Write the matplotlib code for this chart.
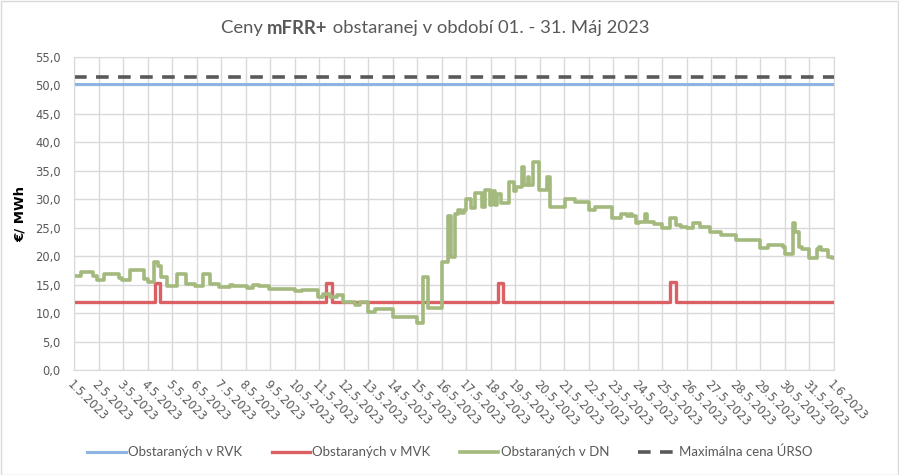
import matplotlib
matplotlib.use('Agg')
import matplotlib.pyplot as plt
from matplotlib.patches import Rectangle
from datetime import datetime, timedelta

# hodiny od 1.5.2023 00:00 a hodnoty (EUR/MWh)
dn_hours = [0, 7, 19, 23, 29, 44, 47, 55, 69, 72, 78, 82, 85, 91, 101, 110, 118,
            126, 133, 142, 153, 156, 169, 175, 181, 191, 216, 223, 239, 244, 251,
            257, 263, 275, 280, 288, 295, 312, 336, 342, 347, 360, 366, 369, 373,
            376, 379, 382, 384, 389, 393, 399, 402, 407, 409, 412, 414, 418, 426,
            431, 433, 439, 441, 444, 445, 449, 455, 463, 466, 481, 490, 504, 510,
            527, 535, 541, 544, 546, 550, 553, 559, 561, 568, 576, 583, 589, 594,
            600, 606, 613, 623, 633, 648, 672, 679, 694, 696, 704, 706, 710, 713,
            720, 727, 729, 731, 738, 742, 744]
dn_vals = [16.5, 17.2, 16.5, 15.9, 16.8, 16.1, 15.8, 17.6, 16.0, 15.4, 18.9, 18.2,
           16.4, 14.8, 16.9, 15.1, 14.8, 16.9, 15.1, 14.65, 15.0, 14.75, 14.4, 15.0,
           14.75, 14.2, 13.8, 14.0, 12.9, 13.3, 12.8, 13.1, 12.0, 11.5, 12.0, 10.25,
           10.7, 9.4, 8.2, 16.4, 10.85, 19.05, 27.0, 19.9, 27.4, 28.1, 27.55, 28.1,
           30.0, 28.4, 31.1, 28.7, 31.65, 29.0, 31.4, 29.0, 31.0, 29.3, 33.1, 31.4,
           32.2, 35.75, 32.5, 34.0, 32.5, 36.6, 31.65, 34.0, 28.7, 30.0, 29.6, 28.1,
           28.7, 26.7, 27.4, 27.0, 27.4, 27.0, 25.8, 26.05, 27.4, 26.05, 25.6, 25.0,
           26.7, 25.4, 25.1, 24.9, 25.9, 25.2, 24.3, 23.7, 22.9, 21.4, 22.0, 21.6,
           20.4, 25.8, 24.3, 21.7, 21.3, 19.6, 21.3, 21.7, 21.1, 19.9, 19.6, 19.6]

mvk_hours = [0, 79, 84, 247, 253, 415, 420, 583, 589, 744]
mvk_vals = [12.0, 15.3, 12.0, 15.3, 12.0, 15.3, 12.0, 15.5, 12.0, 12.0]

rvk_val = 50.3
urso_max = 51.4

start = datetime(2023, 5, 1)
days = [start + timedelta(days=i) for i in range(32)]
day_labels = [f"{d.day}.{d.month}.{d.year}" for d in days]

dn_t = [start + timedelta(hours=h) for h in dn_hours]
mvk_t = [start + timedelta(hours=h) for h in mvk_hours]

fig = plt.figure(figsize=(8.99, 4.75), dpi=100)
fig.patches.append(Rectangle((0.001, 0.001), 0.998, 0.997, transform=fig.transFigure,
                             fill=False, edgecolor='#D9D9D9', linewidth=1))
ax = fig.add_axes([74 / 899, 1 - 370 / 475, 760 / 899, 313 / 475])

ax.plot([days[0], days[-1]], [rvk_val, rvk_val], color='#8EB4E3', lw=2.2,
        label='Obstaraných v RVK')
ax.step(mvk_t, mvk_vals, where='post', color='#DA6064', lw=2.4,
        label='Obstaraných v MVK')
ax.step(dn_t, dn_vals, where='post', color='#A4B97D', lw=2.6,
        label='Obstaraných v DN')
ax.plot([days[0], days[-1]], [urso_max, urso_max], color='#595959', lw=2.6,
        dashes=(3.5, 2.6), label='Maximálna cena ÚRSO')

ax.set_xlim(days[0], days[-1])
ax.set_ylim(0, 55)
ax.set_yticks([i * 5 for i in range(12)])
ax.set_yticklabels([f"{i * 5},0" for i in range(12)])
ax.set_xticks(days)
ax.set_xticklabels(day_labels, rotation=-45, ha='left', va='top',
                   rotation_mode='anchor')
ax.tick_params(length=0, labelsize=8.3, labelcolor='#595959', pad=6)
ax.tick_params(axis='y', pad=9.5)
ax.grid(True, color='#D9D9D9', lw=1)
ax.set_axisbelow(True)
for s in ax.spines.values():
    s.set_color('#D9D9D9')
ax.set_ylabel('€/ MWh', fontsize=9.5, fontweight='bold', labelpad=6)

title_font = ['Lato', 'DejaVu Sans']
fig.canvas.draw()
r = fig.canvas.get_renderer()
parts = [("Ceny ", 'normal'), ("mFRR+", 'bold'),
         (" obstaranej v období 01. - 31. Máj 2023", 'normal')]
texts = []
for s, w in parts:
    t = fig.text(0, 1 - 28 / 475, s, fontsize=13, fontweight=w, family=title_font,
                 color='#595959', va='center', ha='left')
    texts.append(t)
total = sum(t.get_window_extent(r).width for t in texts)
fs = 13 * 426 / total
for t in texts:
    t.set_fontsize(fs)
widths = [t.get_window_extent(r).width for t in texts]
x0 = 435 - sum(widths) / 2
for t, w in zip(texts, widths):
    t.set_x(x0 / 899)
    x0 += w

leg = fig.legend(loc='center', bbox_to_anchor=(450 / 899, 1 - 452 / 475), ncol=4,
                 frameon=False, handlelength=2.9, columnspacing=2.2,
                 handletextpad=0.2, prop={'family': title_font, 'size': 9.5})
for t in leg.get_texts():
    t.set_color('#595959')

fig.savefig('out.png', dpi=100)
